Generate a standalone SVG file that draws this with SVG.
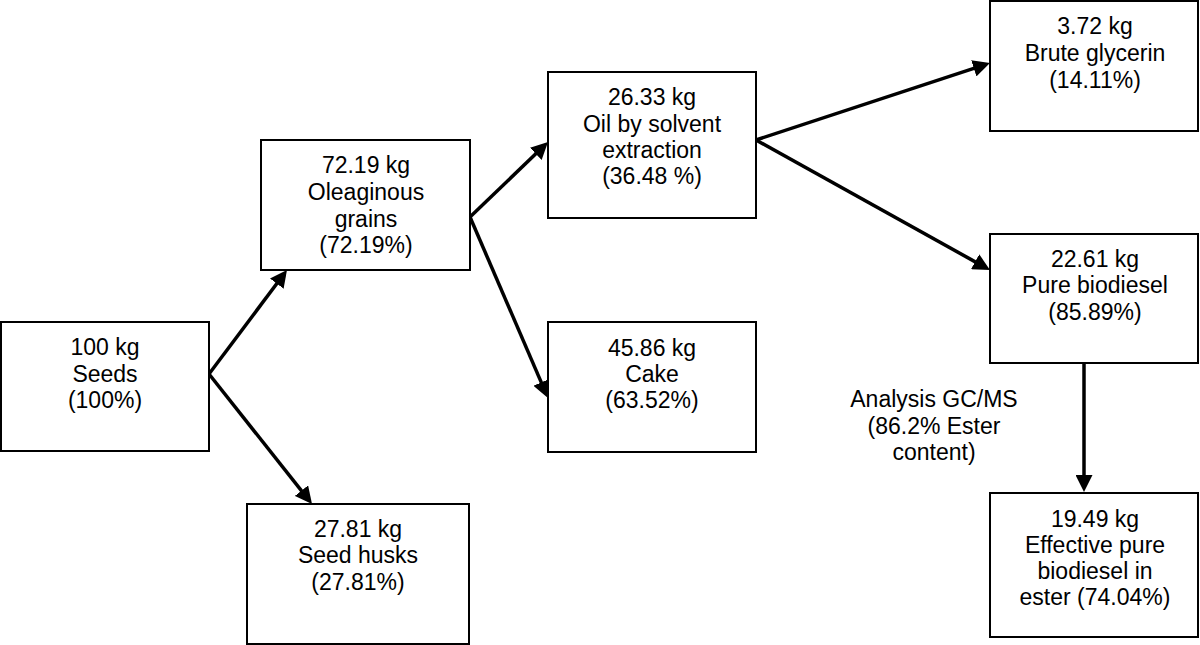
<svg xmlns="http://www.w3.org/2000/svg" width="1200" height="645" viewBox="0 0 1200 645">
<style>
.box{fill:#fff;stroke:#000;stroke-width:2}
.t{font-family:"Liberation Sans",Arial,sans-serif;font-size:23px;fill:#000;text-anchor:middle}
.c{stroke:#000;stroke-width:3.5;fill:none;marker-end:url(#ah)}
</style>
<defs>
<marker id="ah" markerUnits="userSpaceOnUse" markerWidth="17" markerHeight="17" refX="12" refY="8.5" orient="auto">
<path d="M0,0 L17,8.5 L0,17 z" fill="#000"/>
</marker>
</defs>
<rect width="1200" height="645" fill="#fff"/>
<g id="connectors">
<line class="c" x1="209" y1="374" x2="284" y2="274"/>
<line class="c" x1="209" y1="374" x2="308.9" y2="500.1"/>
<line class="c" x1="470" y1="217" x2="544.4" y2="145.5"/>
<line class="c" x1="470" y1="217" x2="546" y2="393.4"/>
<line class="c" x1="756" y1="140" x2="985.2" y2="64.6"/>
<line class="c" x1="756" y1="140" x2="985.6" y2="267.6"/>
<line class="c" x1="1084" y1="363" x2="1084" y2="487"/>
</g>
<g id="seeds">
<rect class="box" x="1" y="322" width="208" height="129"/>
<text class="t" x="105" y="355">100 kg</text>
<text class="t" x="105" y="382">Seeds</text>
<text class="t" x="105" y="408">(100%)</text>
</g>
<g id="grains">
<rect class="box" x="261" y="140" width="209" height="130"/>
<text class="t" x="366" y="173">72.19 kg</text>
<text class="t" x="366" y="200">Oleaginous</text>
<text class="t" x="366" y="227">grains</text>
<text class="t" x="366" y="253">(72.19%)</text>
</g>
<g id="husks">
<rect class="box" x="247" y="504" width="222" height="140"/>
<text class="t" x="358" y="537">27.81 kg</text>
<text class="t" x="358" y="563">Seed husks</text>
<text class="t" x="358" y="590">(27.81%)</text>
</g>
<g id="oil">
<rect class="box" x="548" y="72" width="208" height="146"/>
<text class="t" x="652" y="105">26.33 kg</text>
<text class="t" x="652" y="132">Oil by solvent</text>
<text class="t" x="652" y="158">extraction</text>
<text class="t" x="652" y="184">(36.48 %)</text>
</g>
<g id="cake">
<rect class="box" x="548" y="322" width="208" height="130"/>
<text class="t" x="652" y="356">45.86 kg</text>
<text class="t" x="652" y="382">Cake</text>
<text class="t" x="652" y="408">(63.52%)</text>
</g>
<g id="glycerin">
<rect class="box" x="990" y="1" width="208" height="130"/>
<text class="t" x="1095" y="34">3.72 kg</text>
<text class="t" x="1095" y="61">Brute glycerin</text>
<text class="t" x="1095" y="88">(14.11%)</text>
</g>
<g id="biodiesel">
<rect class="box" x="990" y="234" width="208" height="129"/>
<text class="t" x="1095" y="267">22.61 kg</text>
<text class="t" x="1095" y="293">Pure biodiesel</text>
<text class="t" x="1095" y="320">(85.89%)</text>
</g>
<g id="analysis">
<text class="t" x="934" y="407">Analysis GC/MS</text>
<text class="t" x="934" y="434">(86.2% Ester</text>
<text class="t" x="934" y="460">content)</text>
</g>
<g id="effective">
<rect class="box" x="990" y="493" width="208" height="144"/>
<text class="t" x="1095" y="527">19.49 kg</text>
<text class="t" x="1095" y="553">Effective pure</text>
<text class="t" x="1095" y="579">biodiesel in</text>
<text class="t" x="1095" y="605">ester (74.04%)</text>
</g>
</svg>
